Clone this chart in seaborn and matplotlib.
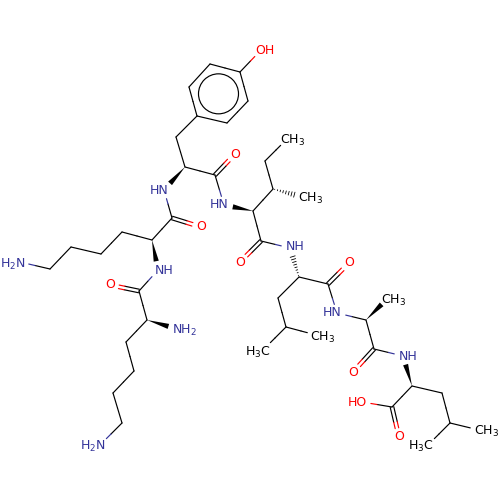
"""
Structure drawing of the peptide Lys-Lys-Tyr-Ile-Leu-Ala-Leu.
Atoms and bonds are kept in plain lists, seaborn draws the bond lines.
"""

import numpy as np
import pandas as pd
import matplotlib
matplotlib.use("Agg")
import matplotlib.pyplot as plt
from matplotlib.patches import Circle
import seaborn as sns

sns.set_theme(style="white")
plt.rcParams["font.family"] = "DejaVu Sans"

NAVY = "#333399"
RED = "#ff0000"
BLACK = "#000000"
ELEMENT_COLOR = {"C": BLACK, "N": NAVY, "O": RED}

# atoms, positions
atom_names = [
    "r1", "r2", "r3", "r4", "r5", "r6", "oh_tyr",
    "tyr_cb", "tyr_ca", "tyr_c", "tyr_o", "tyr_n",
    "k2_c", "k2_o", "k2_ca", "k2_cb", "k2_cg", "k2_cd", "k2_ce", "k2_nz", "k2_n",
    "k1_c", "k1_o", "k1_ca", "k1_n", "k1_cb", "k1_cg", "k1_cd", "k1_ce", "k1_nz",
    "i_n", "i_ca", "i_cb", "i_cg2", "i_cg1", "i_cd", "i_c", "i_o",
    "l1_n", "l1_ca", "l1_c", "l1_o", "l1_cb", "l1_cg", "l1_cd1", "l1_cd2",
    "a_n", "a_ca", "a_cb", "a_c", "a_o",
    "l2_n", "l2_ca", "l2_cb", "l2_cg", "l2_cd1", "l2_cd2", "l2_c", "l2_o", "l2_oh",
]
atom_x = [
    197, 189, 210, 240, 248, 227, 261,
    176, 185, 215, 235, 164,
    172, 201, 152, 122, 101, 71, 50, 20, 158,
    139, 110, 147, 177, 126, 134, 113, 122, 100,
    224, 253, 273, 303, 265, 287, 261, 240,
    290, 299, 328, 349, 278, 286, 316, 264,
    337, 366, 388, 374, 353,
    403, 412, 442, 450, 479, 428, 392, 399, 362,
]
atom_y = [
    116, 87, 64, 72, 101, 123, 50,
    137, 167, 175, 154, 190,
    218, 227, 240, 232, 254, 247, 269, 262, 270,
    291, 285, 320, 329, 342, 371, 393, 423, 445,
    205, 211, 189, 197, 161, 139, 241, 262,
    248, 277, 284, 263, 298, 327, 335, 349,
    313, 320, 298, 349, 372,
    356, 386, 393, 423, 430, 445, 407, 437, 402,
]

# bonds: "s" single, "d" double, "w" wedge, "h" hashed
bond_from = [
    "r1", "r2", "r3", "r4", "r5", "r6", "r4", "r1",
    "tyr_cb", "tyr_ca", "tyr_c", "tyr_ca", "tyr_n",
    "k2_c", "k2_c", "k2_ca", "k2_cb", "k2_cg", "k2_cd", "k2_ce", "k2_ca", "k2_n",
    "k1_c", "k1_c", "k1_ca", "k1_ca", "k1_cb", "k1_cg", "k1_cd", "k1_ce",
    "tyr_c", "i_ca", "i_ca", "i_cb", "i_cb", "i_cg1", "i_ca", "i_c", "i_c",
    "l1_ca", "l1_ca", "l1_c", "l1_ca", "l1_cb", "l1_cg", "l1_cg", "l1_c",
    "a_n", "a_ca", "a_ca", "a_c", "a_c",
    "l2_ca", "l2_ca", "l2_cb", "l2_cg", "l2_cg", "l2_ca", "l2_c", "l2_c",
]
bond_to = [
    "r2", "r3", "r4", "r5", "r6", "r1", "oh_tyr", "tyr_cb",
    "tyr_ca", "tyr_c", "tyr_o", "tyr_n", "k2_c",
    "k2_o", "k2_ca", "k2_cb", "k2_cg", "k2_cd", "k2_ce", "k2_nz", "k2_n", "k1_c",
    "k1_o", "k1_ca", "k1_n", "k1_cb", "k1_cg", "k1_cd", "k1_ce", "k1_nz",
    "i_n", "i_n", "i_cb", "i_cg2", "i_cg1", "i_cd", "i_c", "i_o", "l1_n",
    "l1_n", "l1_c", "l1_o", "l1_cb", "l1_cg", "l1_cd1", "l1_cd2", "a_n",
    "a_ca", "a_cb", "a_c", "a_o", "l2_n",
    "l2_n", "l2_cb", "l2_cg", "l2_cd1", "l2_cd2", "l2_c", "l2_o", "l2_oh",
]
bond_kind = [
    "s", "s", "s", "s", "s", "s", "s", "s",
    "s", "s", "d", "w", "s",
    "d", "s", "s", "s", "s", "s", "s", "w", "s",
    "d", "s", "w", "s", "s", "s", "s", "s",
    "s", "w", "s", "h", "s", "s", "s", "d", "s",
    "h", "s", "d", "s", "s", "s", "s", "s",
    "s", "w", "s", "d", "s",
    "w", "s", "s", "s", "s", "s", "d", "s",
]

ring_atoms = ["r1", "r2", "r3", "r4", "r5", "r6"]

# atom labels, placed by the centre of the whole text
label_atom = [
    "oh_tyr", "tyr_o", "tyr_n", "k2_o", "k2_nz", "k2_n", "k1_o", "k1_n", "k1_nz",
    "i_n", "i_cg2", "i_cd", "i_o", "l1_n", "l1_o", "l1_cd1", "l1_cd2",
    "a_n", "a_cb", "a_o", "l2_n", "l2_cd1", "l2_cd2", "l2_o", "l2_oh",
]
label_text = [
    "OH", "O", "HN", "O", "H$_2$N", "NH", "O", "NH$_2$", "H$_2$N",
    "HN", "CH$_3$", "CH$_3$", "O", "NH", "O", "CH$_3$", "H$_3$C",
    "HN", "CH$_3$", "O", "NH", "CH$_3$", "H$_3$C", "O", "HO",
]
label_element = [
    "O", "O", "N", "O", "N", "N", "O", "N", "N",
    "N", "C", "C", "O", "N", "O", "C", "C",
    "N", "C", "O", "N", "C", "C", "O", "O",
]
label_x = [
    265, 235, 159, 201, 13, 164, 110, 184, 93,
    219, 311, 293, 240, 295, 349, 323, 258,
    332, 394, 353, 408, 487, 421, 399, 357,
]
label_y = [
    51, 154, 190, 227, 264, 270, 285, 330, 446,
    205, 198, 140, 262, 247, 263, 337, 352,
    313, 300, 372, 357, 431, 446, 437, 402,
]

LABEL_GAP = 9      # bonds stop this far from a labelled atom
DOUBLE_GAP = 1.8   # half the distance between the lines of a double bond
WEDGE_WIDTH = 2.6  # half the width of a wedge at its far end
N_HASHES = 8

pos = {n: np.array([x, y], dtype=float) for n, x, y in zip(atom_names, atom_x, atom_y)}
element = dict(zip(label_atom, label_element))

fig = plt.figure(figsize=(5, 5), dpi=100)
ax = fig.add_axes([0, 0, 1, 1])

lines = []
hashes = []
seg = 0
for a, b, kind in zip(bond_from, bond_to, bond_kind):
    p, q = pos[a], pos[b]
    d = (q - p) / np.linalg.norm(q - p)
    perp = np.array([-d[1], d[0]])
    start = p + d * LABEL_GAP if a in element else p
    end = q - d * LABEL_GAP if b in element else q

    if kind == "w":
        poly = np.array([start, end + perp * WEDGE_WIDTH, end - perp * WEDGE_WIDTH])
        ax.fill(poly[:, 0], poly[:, 1], color=BLACK, lw=0, zorder=3)
    elif kind == "h":
        for t in np.linspace(0.08, 1, N_HASHES):
            c = start + (end - start) * t
            half = WEDGE_WIDTH * t
            for pt in (c - perp * half, c + perp * half):
                hashes.append({"x": pt[0], "y": pt[1], "seg": seg})
            seg += 1
    else:
        offsets = [-DOUBLE_GAP, DOUBLE_GAP] if kind == "d" else [0]
        mid = (p + q) / 2
        for off in offsets:
            for s, e, atom in ((start, mid, a), (mid, end, b)):
                color = ELEMENT_COLOR[element.get(atom, "C")]
                for pt in (s + perp * off, e + perp * off):
                    lines.append({"x": pt[0], "y": pt[1], "seg": seg, "color": color})
                seg += 1

lines = pd.DataFrame(lines)
hashes = pd.DataFrame(hashes)

sns.lineplot(data=lines, x="x", y="y", units="seg", hue="color",
             palette={c: c for c in lines["color"].unique()},
             estimator=None, sort=False, legend=False, ax=ax,
             linewidth=0.85, solid_capstyle="round")
sns.lineplot(data=hashes, x="x", y="y", units="seg", color=BLACK,
             estimator=None, sort=False, legend=False, ax=ax,
             linewidth=0.6)

# aromatic ring circle
ring_center = np.mean([pos[n] for n in ring_atoms], axis=0)
ax.add_patch(Circle(ring_center, 20, fill=False, ec=BLACK, lw=0.85))

for txt, x, y, el in zip(label_text, label_x, label_y, label_element):
    ax.text(x, y, txt, color=ELEMENT_COLOR[el], fontsize=9,
            ha="center", va="center")

ax.set_xlim(0, 500)
ax.set_ylim(500, 0)
ax.axis("off")

fig.savefig("out.png", dpi=100, facecolor="white")
plt.close(fig)
